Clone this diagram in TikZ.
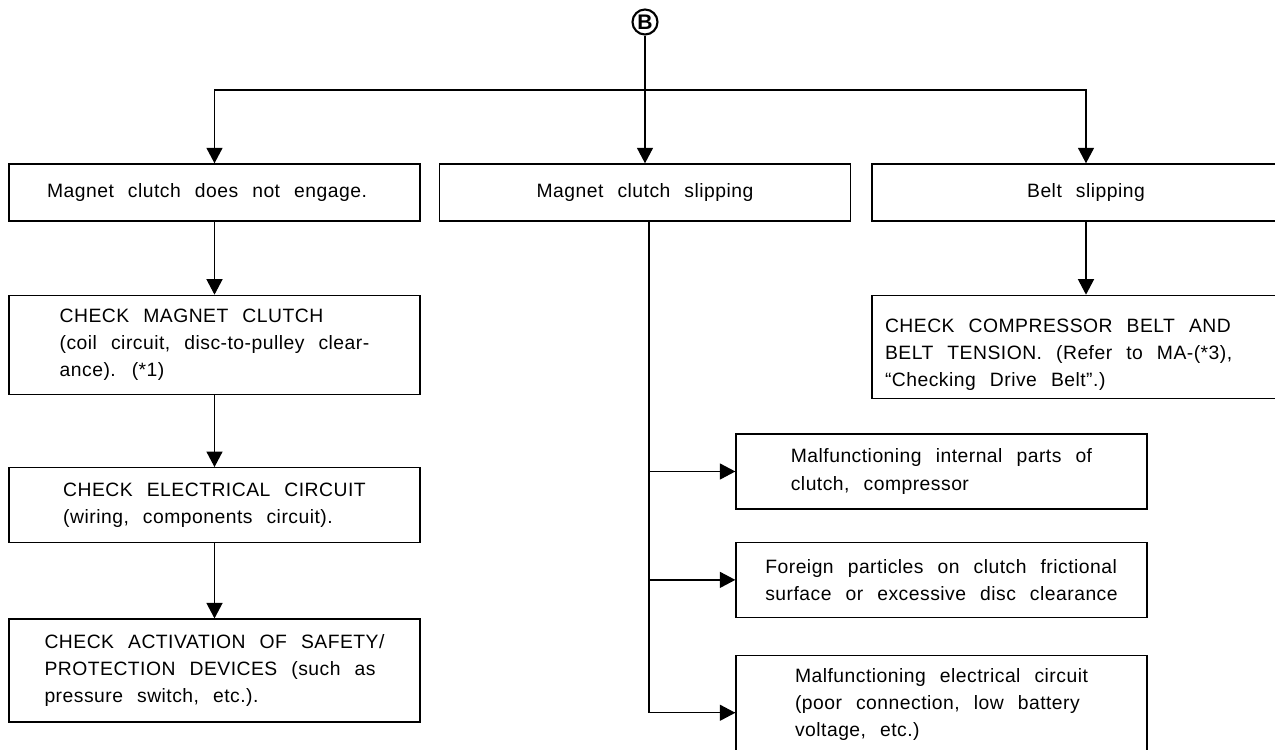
\documentclass[tikz,border=0pt]{standalone}
\usepackage{fontspec}
\setmainfont{Liberation Sans}[WordSpace=2.4, LetterSpace=2.5]
\usetikzlibrary{arrows.meta, positioning}

\begin{document}
\begin{tikzpicture}[
    x=0.02cm, y=-0.02cm,
    box/.style={draw, line width=0.8pt, minimum width=8.22cm, inner sep=0pt, align=left,
                font=\fontsize{11pt}{15.4pt}\selectfont},
    wbox/.style={box, text width=8.04cm, inner xsep=0.26cm, align=flush left},
    arrow/.style={-{Triangle[length=0.31cm, width=0.32cm]}, line width=0.8pt},
    link/.style={line width=0.8pt}
  ]
  \clip (0,0) rectangle (1275,750);

  % Start marker
  \node[circle, draw, line width=1.2pt, inner sep=0pt, minimum size=0.5cm,
        font=\fontsize{12pt}{12pt}\selectfont\bfseries] (mark) at (645,22) {B};
  \coordinate (bar) at (645,90);

  % Symptoms
  \node[box, minimum height=1.14cm] (noeng) at (214.5,192.5) {Magnet clutch does not engage.\hspace{0.3cm}};
  \node[box, minimum height=1.14cm] (slip) at (645,192.5) {Magnet clutch slipping};
  \node[box, minimum height=1.14cm, minimum width=8.56cm] (belt) at (1086,192.5) {Belt slipping};

  % Magnet clutch does not engage
  \node[box, minimum height=1.98cm, below=1.46cm of noeng] (chkclutch)
    {CHECK MAGNET CLUTCH\\(coil circuit, disc-to-pulley clear-\\ance). (*1)};
  \node[box, minimum height=1.5cm, below=1.44cm of chkclutch] (chkelec)
    {CHECK ELECTRICAL CIRCUIT\\(wiring, components circuit).};
  \node[box, minimum height=2.06cm, below=1.5cm of chkelec] (chksafe)
    {CHECK ACTIVATION OF SAFETY/\\PROTECTION DEVICES (such as\\pressure switch, etc.).};

  % Belt slipping
  \node[wbox, minimum height=2.06cm, below=1.46cm of belt] (chkbelt)
    {\rule{0pt}{0.6cm}CHECK COMPRESSOR BELT AND\\BELT TENSION. (Refer to MA-(*3),\\``Checking Drive Belt''.)};

  % Magnet clutch slipping
  \node[box, minimum height=1.5cm] (internal) at (941.5,471.5)
    {Malfunctioning internal parts of\\clutch, compressor};
  \node[box, minimum height=1.5cm, below=0.64cm of internal] (foreign)
    {Foreign particles on clutch frictional\\surface or excessive disc clearance};
  \node[box, minimum height=2.28cm, below=0.74cm of foreign, align=center] (elcirc)
    {\begin{tabular}{@{}l@{}}Malfunctioning electrical circuit\\(poor connection, low battery\\voltage, etc.)\\[0.36cm]\end{tabular}};
  \coordinate (fork) at ([xshift=0.08cm]slip.south);

  % Arrows
  \draw[link] (mark) -- (bar);
  \draw[arrow] (bar) -| (noeng);
  \draw[arrow] (bar) -- (slip);
  \draw[arrow] (bar) -| (belt);
  \draw[arrow] (noeng) -- (chkclutch);
  \draw[arrow] (chkclutch) -- (chkelec);
  \draw[arrow] (chkelec) -- (chksafe);
  \draw[arrow] (belt) -- (chkbelt);
  \draw[link] (fork) |- (elcirc.west);
  \draw[arrow] (fork |- internal) -- (internal);
  \draw[arrow] (fork |- foreign) -- (foreign);
  \draw[arrow] (fork |- elcirc) -- (elcirc);

\end{tikzpicture}
\end{document}
